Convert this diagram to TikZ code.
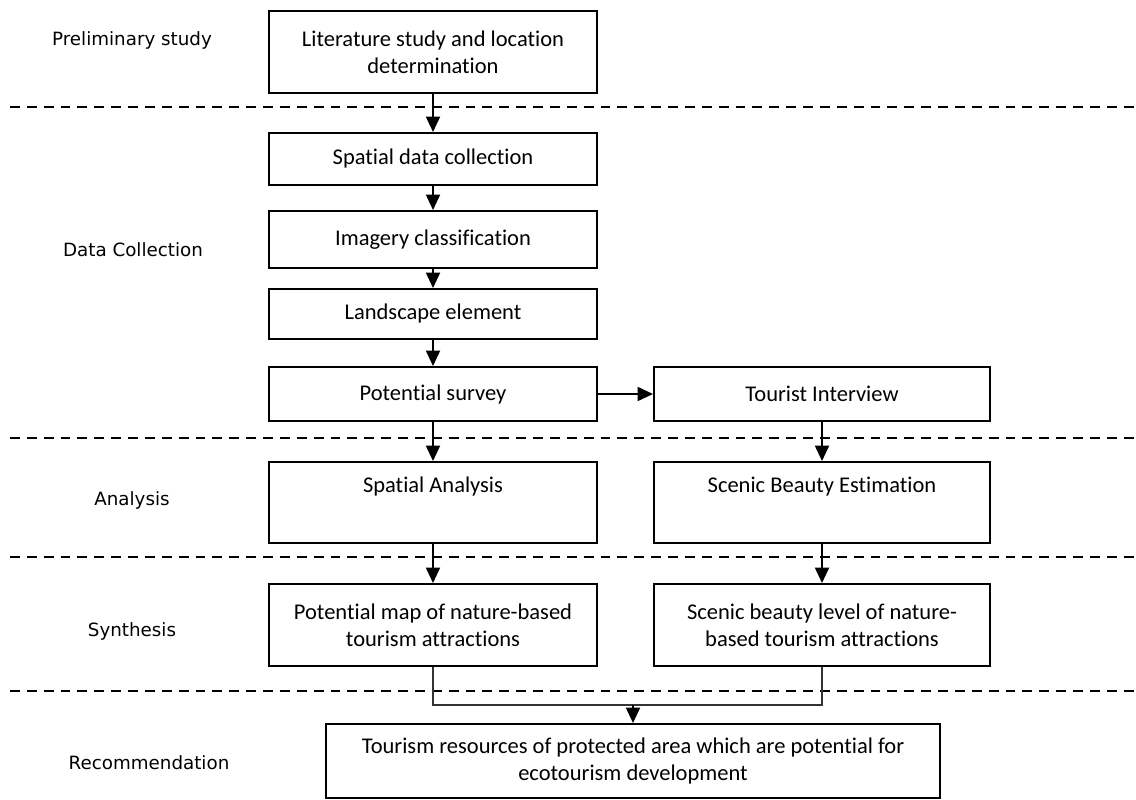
\documentclass[tikz,border=0pt]{standalone}
\usepackage{fontspec}
\setmainfont{Carlito}[Ligatures={NoCommon,NoRequired,NoContextual}, Contextuals=NoAlternate, RawFeature={-liga;-clig;-calt;-dlig}]
\newfontfamily\phasefont{DejaVu Sans}
\usetikzlibrary{arrows.meta, positioning, calc}
\tikzset{
  every picture/.style={line width=1.4pt},
  box/.style={draw, align=center, inner sep=0pt, minimum width=#1, font=\fontsize{16}{19.5}\selectfont},
  box/.default=8.2cm,
  arrow/.style={-{Triangle[length=11pt, width=10pt]}, line width=1.4pt},
  phase/.style={font=\phasefont\fontsize{13}{16}\selectfont},
  divider/.style={line width=1.4pt, dash pattern=on 7pt off 5pt},
  joinline/.style={line width=0.8pt, draw=black!80},
}

\begin{document}
\begin{tikzpicture}[x=0.025cm, y=-0.025cm]
  \useasboundingbox (0,0) rectangle (1136,800);

  % ---- phase names
  \node[phase] (pre)  at (132,40)  {Preliminary study};
  \node[phase] (data) at (133,250) {Data Collection};
  \node[phase] (ana)  at (132,500) {Analysis};
  \node[phase] (syn)  at (132,631) {Synthesis};
  \node[phase] (rec)  at (149,763) {Recommendation};

  % ---- dividers
  \foreach \y in {107, 438, 557, 691} \draw[divider] (10,\y) -- (1136,\y);

  % ---- left column
  \node[box, minimum height=2.05cm]  (lit)  at (433,52)    {Literature study and location\\determination};
  \node[box, minimum height=1.3cm]   (spd)  at (433,159)   {Spatial data collection};
  \node[box, minimum height=1.425cm] (img)  at (433,239.5) {Imagery classification};
  \node[box, minimum height=1.25cm]  (land) at (433,314)   {Landscape element};
  \node[box, minimum height=1.35cm]  (surv) at (433,394)   {Potential survey};
  \node[box, minimum height=2.025cm] (spa)  at (433,502.5) {Spatial Analysis\\\strut};
  \node[box, minimum height=2.05cm]  (map)  at (433,625)   {Potential map of nature-based\\tourism attractions};

  % ---- right column
  \node[box=8.4cm, minimum height=1.35cm]  (tour) at (822,394)   {Tourist Interview};
  \node[box=8.4cm, minimum height=2.025cm] (sbe)  at (822,502.5) {Scenic Beauty Estimation\\\strut};
  \node[box=8.4cm, minimum height=2.05cm]  (lvl)  at (822,625)   {Scenic beauty level of nature-\\based tourism attractions};

  % ---- result
  \node[box=15.35cm, minimum height=1.85cm] (res) at (633,761) {Tourism resources of protected area which are potential for\\ecotourism development};

  % arrows
  \draw[arrow] (lit) -- (spd);
  \draw[arrow] (spd) -- (img);
  \draw[arrow] (img) -- (land);
  \draw[arrow] (land) -- (surv);
  \draw[arrow] (surv) -- (tour);
  \draw[arrow] (surv) -- (spa);
  \draw[arrow] (tour) -- (sbe);
  \draw[arrow] (spa) -- (map);
  \draw[arrow] (sbe) -- (lvl);

  % joining both results
  \coordinate (join) at ($(map.south)+(0,38)$);
  \draw[joinline] (map.south) -- (join) -| (lvl.south);
  \draw[arrow] (res.north |- join) -- (res.north);
\end{tikzpicture}
\end{document}
